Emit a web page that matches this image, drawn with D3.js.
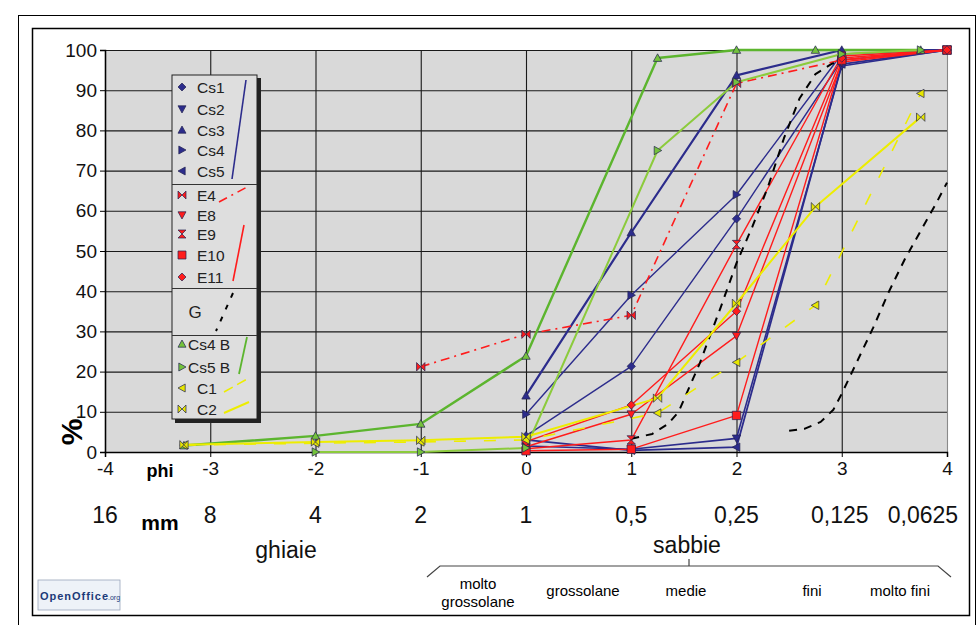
<!DOCTYPE html>
<html><head><meta charset="utf-8">
<script src="https://cdn.jsdelivr.net/npm/d3@7/dist/d3.min.js"></script>
<style>
html,body{margin:0;padding:0;background:#fff;}
svg{display:block;font-family:"Liberation Sans",Arial,sans-serif;}
</style></head>
<body><svg id="c" width="980" height="625"></svg>
<script>
// ---------- data ----------
const phiTicks = [-4,-3,-2,-1,0,1,2,3,4];
const mmLabels = ["16","8","4","2","1","0,5","0,25","0,125","0,0625"];
const pctTicks = [0,10,20,30,40,50,60,70,80,90,100];

const xMain = [0,1,2,3,4];
const cs1 = [4, 21.3, 58, 97.5, 100];
const cs2 = [1.5, 0.7, 3.4, 96, 100];
const cs3 = [14, 54.6, 93.7, 100, 100];
const cs4 = [9.4, 39, 64, 99, 100];
const cs5 = [3, 0.4, 1.2, 96.5, 100];

const xE4 = [-1,0,1,2,3,4];
const e4  = [21.2, 29.3, 34, 91.7, 97.5, 100];
const e8  = [1.3, 9.4, 28.9, 97, 100];
const e9  = [0.8, 3, 51.6, 98.5, 100];
const e10 = [0.3, 0.7, 9.1, 97.5, 100];
const e11 = [2.6, 11.7, 35, 98, 100];

const gPhi = [1.0,1.2,1.35,1.45,1.55,1.65,1.75,1.85,2.0,2.15,2.3,2.45,2.6,2.75,2.9,3.0, null,
              2.5,2.65,2.8,2.92,3.0,3.1,3.2,3.3,3.45,3.6,3.75,3.9,4.0];
const gPct = [3.3,4.5,7,10,16,22,29,36,47,56,66,78,88,94,96.5,97.5, null,
              5.3,5.8,7.5,10.5,14.5,20,25.5,31,40,48,55,62,67];

const xB    = [-3.25,-2,-1,0,1.25,2,2.75,3.75];
const cs4b  = [1.6, 4, 7, 23.9, 98, 100, 100, 100];
const xCs5b = [-2,-1,0,1.25,2,3,3.75];
const cs5b  = [0, 0, 1, 75, 92, 99, 100];
const c1    = [1.7, 2.2, 2.5, 3, 9.7, 22.3, 36.5, 89.2];
const c2    = [1.8, 2.5, 2.9, 3.8, 13.4, 37, 61, 83.3];

const seriesNames = ["Cs1","Cs2","Cs3","Cs4","Cs5","E4","E8","E9","E10","E11","G","Cs4 B","Cs5 B","C1","C2"];
const subLabels = ["grossolane","medie","fini","molto fini"];

// ---------- styles ----------
const NAVY="#2c2c8c", RED="#ff1c1c", GREEN="#5cb52e", LGREEN="#8ccb3c", YEL="#eded00";
const series = [
  {name:"Cs1", x:xMain, y:cs1, color:NAVY, w:1.4, mk:"diamond", fill:NAVY},
  {name:"Cs2", x:xMain, y:cs2, color:NAVY, w:1.6, mk:"down", fill:NAVY},
  {name:"Cs3", x:xMain, y:cs3, color:NAVY, w:2.2, mk:"up", fill:NAVY},
  {name:"Cs4", x:xMain, y:cs4, color:NAVY, w:1.4, mk:"right", fill:NAVY},
  {name:"Cs5", x:xMain, y:cs5, color:NAVY, w:1.8, mk:"left", fill:NAVY},
  {name:"E4", x:xE4, y:e4, color:RED, w:1.6, mk:"bowtie", fill:RED, dash:"9,5,2,5"},
  {name:"E8", x:xMain, y:e8, color:RED, w:1.4, mk:"down", fill:RED},
  {name:"E9", x:xMain, y:e9, color:RED, w:1.4, mk:"hourglass", fill:RED},
  {name:"E10", x:xMain, y:e10, color:RED, w:1.4, mk:"square", fill:RED},
  {name:"E11", x:xMain, y:e11, color:RED, w:1.4, mk:"diamond", fill:RED},
  {name:"G", x:gPhi, y:gPct, color:"#000", w:2, mk:null, dash:"8,7"},
  {name:"Cs4 B", x:xB, y:cs4b, color:GREEN, w:2.4, mk:"up", fill:"#74c23c"},
  {name:"Cs5 B", x:xCs5b, y:cs5b, color:LGREEN, w:2, mk:"right", fill:"#74c23c"},
  {name:"C1", x:xB, y:c1, color:YEL, w:1.6, mk:"left", fill:"#e6e600", dash:"12,18"},
  {name:"C2", x:xB, y:c2, color:YEL, w:2, mk:"bowtie", fill:"#e6e600"}
];

function mpath(t, s){
  switch(t){
    case "diamond": return `M0,${-s}L${s},0L0,${s}L${-s},0Z`;
    case "up": return `M0,${-s}L${s},${s*0.8}L${-s},${s*0.8}Z`;
    case "down": return `M${-s},${-s*0.8}L${s},${-s*0.8}L0,${s}Z`;
    case "right": return `M${-s*0.8},${-s}L${s},0L${-s*0.8},${s}Z`;
    case "left": return `M${s*0.8},${-s}L${-s},0L${s*0.8},${s}Z`;
    case "bowtie": return `M${-s},${-s}L0,0L${-s},${s}ZM${s},${-s}L0,0L${s},${s}Z`;
    case "hourglass": return `M${-s},${-s}L${s},${-s}L0,0ZM${-s},${s}L${s},${s}L0,0Z`;
    case "square": return `M${-s},${-s}h${2*s}v${2*s}h${-2*s}Z`;
  }
  return "";
}

// ---------- chart ----------
const svg = d3.select("#c");
const X = d3.scaleLinear().domain([-4,4]).range([105,947]);
const Y = d3.scaleLinear().domain([0,100]).range([452,50]);

// frames
svg.append("rect").attr("x",18.5).attr("y",15.5).attr("width",957).attr("height",620)
  .attr("fill","none").attr("stroke","#000").attr("stroke-width",1);
svg.append("rect").attr("x",32.5).attr("y",28.5).attr("width",937).attr("height",587)
  .attr("fill","#fff").attr("stroke","#000").attr("stroke-width",1.5);

// plot bg
svg.append("rect").attr("x",X(-4)).attr("y",Y(100)).attr("width",X(4)-X(-4)).attr("height",Y(0)-Y(100))
  .attr("fill","#d9d9d9");

// grid
const gridY = svg.append("g").attr("transform",`translate(${X(-4)},0)`)
  .call(d3.axisLeft(Y).tickValues(pctTicks).tickSize(-(X(4)-X(-4))).tickFormat(""));
gridY.select(".domain").remove();
gridY.selectAll("line").attr("stroke","#1a1a1a").attr("stroke-width",1.1);
const gridX = svg.append("g").attr("transform",`translate(0,${Y(0)})`)
  .call(d3.axisBottom(X).tickValues(phiTicks).tickSize(-(Y(0)-Y(100))).tickFormat(""));
gridX.select(".domain").remove();
gridX.selectAll("line").attr("stroke","#1a1a1a").attr("stroke-width",1.1);
gridX.selectAll(".tick").filter(d=>d===4).select("line").attr("stroke","#8a8a8a");

// axes
const ax = svg.append("g").attr("transform",`translate(${X(-4)},0)`)
  .call(d3.axisLeft(Y).tickValues(pctTicks).tickSize(5).tickPadding(3));
ax.select(".domain").attr("stroke","#000").attr("stroke-width",1.5);
ax.selectAll("line").attr("stroke","#000");
ax.selectAll("text").attr("font-size",19).attr("fill","#111").attr("font-family","Liberation Sans, Arial");
const axb = svg.append("g").attr("transform",`translate(0,${Y(0)})`)
  .call(d3.axisBottom(X).tickValues(phiTicks).tickSize(5).tickPadding(5).tickFormat(d=>d<0?"-"+Math.abs(d):d));
axb.select(".domain").attr("stroke","#000").attr("stroke-width",1.5);
axb.selectAll("line").attr("stroke","#000");
axb.selectAll("text").attr("font-size",19).attr("fill","#111").attr("font-family","Liberation Sans, Arial");

// series lines
const line = d3.line().defined((d)=>d[0]!==null && d[1]!==null).x(d=>X(d[0])).y(d=>Y(d[1]));
const plot = svg.append("g");
series.forEach(s=>{
  const pts = s.x.map((v,i)=>[v, s.y[i]]);
  plot.append("path").datum(pts).attr("d",line).attr("fill","none")
    .attr("stroke",s.color).attr("stroke-width",s.w)
    .attr("stroke-dasharray",s.dash||null).attr("stroke-linejoin","round");
});
series.forEach(s=>{
  if(!s.mk) return;
  const pts = s.x.map((v,i)=>[v, s.y[i]]).filter(d=>d[0]!==null);
  plot.selectAll(null).data(pts).enter().append("path")
    .attr("d",mpath(s.mk,4.2)).attr("transform",d=>`translate(${X(d[0])},${Y(d[1])})`)
    .attr("fill",s.fill).attr("stroke","#222250").attr("stroke-width",0.7);
});

// axis titles
svg.append("text").attr("transform",`translate(82,432) rotate(-90)`).attr("text-anchor","middle")
  .attr("font-size",30).attr("font-weight","bold").text("%");
svg.append("text").attr("x",160).attr("y",477).attr("text-anchor","middle")
  .attr("font-size",18).attr("font-weight","bold").text("phi");
// mm row
svg.append("g").selectAll("text").data(phiTicks).enter().append("text")
  .attr("x",(d,i)=> i===8 ? X(d)-24 : (i===7 ? X(d)-2 : X(d)))
  .attr("y",523).attr("text-anchor","middle").attr("font-size",23).attr("fill","#111")
  .text((d,i)=>mmLabels[i]);
svg.append("text").attr("x",160).attr("y",530).attr("text-anchor","middle")
  .attr("font-size",21).attr("font-weight","bold").text("mm");
svg.append("text").attr("x",286).attr("y",558).attr("text-anchor","middle")
  .attr("font-size",23).attr("fill","#111").text("ghiaie");
svg.append("text").attr("x",687).attr("y",553).attr("text-anchor","middle")
  .attr("font-size",23).attr("fill","#111").text("sabbie");
// bracket
svg.append("path").attr("d","M427,577L440,566L938,566L951,577M689,566L689,559")
  .attr("fill","none").attr("stroke","#444").attr("stroke-width",1.2);
svg.append("text").attr("x",478).attr("y",589).attr("text-anchor","middle").attr("font-size",15).text("molto");
svg.append("text").attr("x",478).attr("y",607).attr("text-anchor","middle").attr("font-size",15).text("grossolane");
const subX = [583, 686, 812, 900];
svg.append("g").selectAll("text").data(subLabels).enter().append("text")
  .attr("x",(d,i)=>subX[i]).attr("y",596).attr("text-anchor","middle").attr("font-size",15).text(d=>d);

// OpenOffice logo
const lg = svg.append("g");
lg.append("rect").attr("x",38).attr("y",580).attr("width",82).attr("height",30)
  .attr("fill","#eef2f8").attr("stroke","#9aa6bb").attr("stroke-width",0.8);
lg.append("text").attr("x",40).attr("y",600).attr("font-size",11).attr("font-weight","bold")
  .attr("fill","#1c3a78").attr("textLength",68).text("OpenOffice");
lg.append("text").attr("x",108).attr("y",600).attr("font-size",7).attr("fill","#1c3a78").text(".org");

// ---------- legend ----------
const leg = svg.append("g");
leg.append("rect").attr("x",175).attr("y",78).attr("width",86).attr("height",345).attr("fill","#222");
leg.append("rect").attr("x",172).attr("y",75).attr("width",85).attr("height",344)
  .attr("fill","#dedede").attr("stroke","#222").attr("stroke-width",1);
[184.5, 288.5, 335.5].forEach(yy=>leg.append("line").attr("x1",172).attr("x2",257).attr("y1",yy).attr("y2",yy)
  .attr("stroke","#333").attr("stroke-width",1));
const legRows = [87,109,130,150,171,195,215,234,255,277,312,344,367,388,409];
series.forEach((s,i)=>{
  const yy = legRows[i];
  if(s.mk){
    leg.append("path").attr("d",mpath(s.mk,4)).attr("transform",`translate(182,${yy})`)
      .attr("fill",s.fill).attr("stroke","#222250").attr("stroke-width",0.7);
  }
  const tx = s.name==="G" ? 195 : (s.name.endsWith(" B") ? 188 : 197);
  leg.append("text").attr("x",tx).attr("y",yy+5.5).attr("text-anchor",s.name==="G"?"middle":"start")
    .attr("font-size",s.name==="G"?17:15.5).attr("fill","#222").text(s.name);
});
// legend line samples
leg.append("line").attr("x1",246).attr("y1",80).attr("x2",232).attr("y2",179).attr("stroke",NAVY).attr("stroke-width",1.6);
leg.append("line").attr("x1",219).attr("y1",202).attr("x2",249).attr("y2",186).attr("stroke",RED).attr("stroke-width",1.6).attr("stroke-dasharray","9,5,2,5");
leg.append("line").attr("x1",244).attr("y1",225).attr("x2",233).attr("y2",281).attr("stroke",RED).attr("stroke-width",1.6);
leg.append("line").attr("x1",233).attr("y1",293).attr("x2",216).attr("y2",331).attr("stroke","#000").attr("stroke-width",2).attr("stroke-dasharray","5,8");
leg.append("line").attr("x1",247).attr("y1",337).attr("x2",239).attr("y2",374).attr("stroke",GREEN).attr("stroke-width",1.8);
leg.append("line").attr("x1",224).attr("y1",392).attr("x2",249).attr("y2",378).attr("stroke",YEL).attr("stroke-width",1.6).attr("stroke-dasharray","10,5");
leg.append("line").attr("x1",224).attr("y1",413).attr("x2",249).attr("y2",402).attr("stroke",YEL).attr("stroke-width",2);
</script></body></html>
